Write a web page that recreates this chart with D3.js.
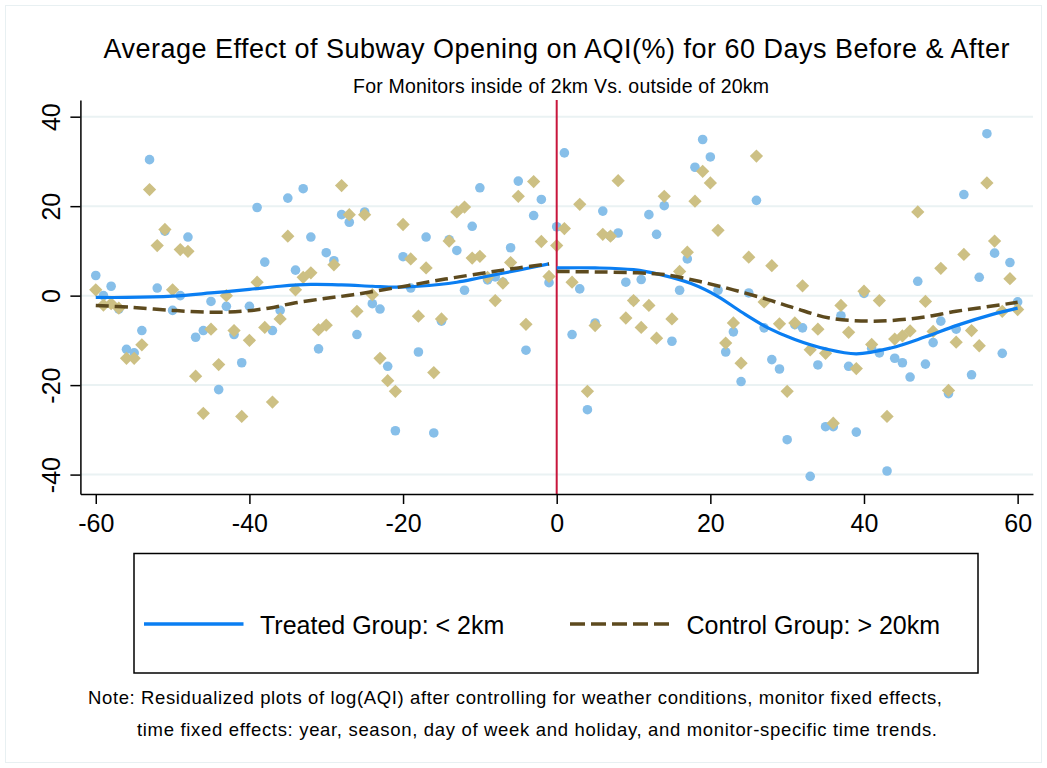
<!DOCTYPE html>
<html>
<head>
<meta charset="utf-8">
<script src="https://cdn.jsdelivr.net/npm/d3@7"></script>
<style>
  body { margin: 0; background: #fff; }
  svg { display: block; }
  text { font-family: "Liberation Sans", Arial, Helvetica, sans-serif; fill: #000; }
</style>
</head>
<body>
<svg id="chart" width="1047" height="768"></svg>
<script>
// ---------- DATA ----------
const days = d3.range(-60, 61);   // day relative to subway opening

const treated = [
  4.5, 0, 2.1, -3, -12, -12.8, -7.8, 30.4, 1.7, 14.4,          // -60..-51
  -3.3, 0, 13.1, -9.3, -7.8, -1.3, -21, -2.4, -8.7, -15,       // -50..-41
  -2.4, 19.7, 7.5, -7.8, -3.3, 21.8, 5.7, 23.9, 13.1, -11.9,   // -40..-31
  9.6, 7.8, 18.1, 16.4, -8.7, 18.7, -1.8, -3, -15.8, -30.2,    // -30..-21
  8.7, 1.7, -12.6, 13.1, -30.7, -5.7, 12.5, 10.1, 1.2, 15.5,   // -20..-11
  24.1, 3.5, 4.2, 3.0, 10.7, 25.6, -12.2, 17.9, 21.5, 2.9,     // -10..-1
  15.4,                                                          // 0
  31.9, -8.7, 1.5, -25.5, -6.1, 18.9, 13.3, 14, 3, -1.1,       // 1..10
  3.6, 18.1, 13.7, 20.1, -10.2, 1.2, 8.2, 28.7, 34.9, 31,      // 11..20
  1.2, -12.6, -8.1, -19.2, 0.6, 21.3, -7.2, -14.3, -16.4, -32.2, // 21..30
  -6.5, -7.2, -40.4, -15.5, -29.3, -29.3, -4.5, -15.8, -30.5, 0.5, // 31..40
  -11.8, -12.8, -39.2, -14, -15, -18.2, 3.2, -15.3, -10.5, -5.7, // 41..50
  -21.9, -7.5, 22.6, -17.7, 4.1, 36.2, 9.5, -12.9, 7.4, -1.4   // 51..60
];

const control = [
  1.3, -2.1, -1.8, -2.8, -14, -14, -11, 23.7, 11.2, 14.8,      // -60..-51
  1.3, 10.3, 9.9, -18, -26.3, -7.5, -15.4, 0, -7.8, -27,       // -50..-41
  -10, 3, -7.1, -23.8, -5.2, 13.3, 1.3, 4.1, 5.1, -7.6,        // -40..-31
  -6.6, 6.9, 24.6, 18.1, -3.5, 18.1, 0.2, -14, -19, -21.4,     // -30..-21
  15.9, 8.2, -4.6, 6.2, -17.2, -5.2, 12.2, 18.7, 19.8, 8.4,    // -20..-11
  8.8, 4.1, -1.1, 2.8, 7.4, 22.2, -6.4, 25.5, 12.1, 4.3,       // -10..-1
  11.2,                                                          // 0
  15, 3, 20.4, -21.4, -6.7, 13.7, 13.3, 25.7, -5, -1.1,        // 1..10
  -7.1, -2.2, -9.5, 22.2, -5.2, 5.4, 9.7, 21.1, 27.8, 25.2,    // 11..20
  14.6, -10.6, -6.1, -15.1, 8.6, 31.2, -1.4, 6.7, -6.3, -21.4, // 21..30
  -6.1, 2.2, -12.1, -7.5, -12.9, -28.5, -2.2, -8.2, -16.3, 1,  // 31..40
  -10.9, -1.1, -27, -9.7, -9, -7.9, 18.7, -1.3, -8, 6.1,       // 41..50
  -21.2, -10.4, 9.2, -7.8, -11.2, 25.2, 12.2, -3.5, 3.8, -3.1  // 51..60
];

// smoothed fits
const treatedPreDays  = [-60, -56, -50, -45, -40, -36, -32, -28, -24, -21, -18, -13, -10, -5, -1];
const treatedPreFit   = [-0.4, -0.4, -0.1, 0.6, 1.4, 2.1, 2.5, 2.4, 2.1, 1.9, 2.1, 3.0, 4.0, 5.7, 7.1];
const treatedPostDays = [0, 5, 10, 13.5, 17.5, 21, 24, 27.5, 31, 35, 39, 43.5, 48, 52, 56.5, 60];
const treatedPostFit  = [6.2, 6.2, 5.8, 4.7, 2.7, -0.2, -3.6, -7.2, -9.8, -11.9, -13, -11.7, -9.2, -6.7, -4.3, -2.8];
const controlPreDays  = [-60, -55.5, -50, -45, -41, -37.5, -34, -30, -26.5, -20.5, -14.5, -9, -5, -1];
const controlPreFit   = [-2.2, -2.6, -3.3, -3.7, -3.5, -2.8, -1.6, -0.6, 0.2, 1.9, 3.7, 5.2, 6.2, 7.1];
const controlPostDays = [0, 5, 10.5, 14, 18.5, 23, 27.5, 31, 35.5, 41, 47, 52, 56, 60];
const controlPostFit  = [5.4, 5.3, 5.1, 4.7, 3.2, 1.3, -0.9, -2.8, -5.0, -5.7, -5.0, -3.5, -2.5, -1.5];

const xTicks = [-60, -40, -20, 0, 20, 40, 60];
const yTicks = [-40, -20, 0, 20, 40];

const titleText    = "Average Effect of Subway Opening on AQI(%) for 60 Days Before & After";
const subtitleText = "For Monitors inside of 2km Vs. outside of 20km";
const legendLabels = ["Treated Group: < 2km", "Control Group: > 20km"];
const noteLines = [
  "Note: Residualized plots of log(AQI) after controlling for weather conditions, monitor fixed effects,",
  "time fixed effects: year, season, day of week and holiday, and monitor-specific time trends."
];

// ---------- STYLE ----------
const C = {
  dot: "#87bfe9",
  diamond: "#cdc084",
  line: "#0a7ef2",
  dash: "#5d4a1e",
  red: "#c8163c",
  grid: "#eaf2f3"
};

// ---------- SCALES ----------
const svg = d3.select("#chart");
const x = d3.scaleLinear().domain([-62, 62]).range([80.4, 1033]);
const y = d3.scaleLinear().domain([-44.34, 43.73]).range([494, 100]);

// faint outer frame
svg.append("rect").attr("x", 5.5).attr("y", 5.5).attr("width", 1036).attr("height", 757)
  .attr("fill", "none").attr("stroke", "#e8f0f2").attr("stroke-width", 1);

// gridlines
svg.append("g").selectAll("line").data(yTicks).join("line")
  .attr("x1", x(-62)).attr("x2", x(62))
  .attr("y1", d => y(d)).attr("y2", d => y(d))
  .attr("stroke", C.grid).attr("stroke-width", 2);

// ---------- SCATTER ----------
const ptsT = days.map((d, i) => ({ d, v: treated[i] }));
const ptsC = days.map((d, i) => ({ d, v: control[i] }));

svg.append("g").selectAll("circle").data(ptsT).join("circle")
  .attr("cx", p => x(p.d)).attr("cy", p => y(p.v)).attr("r", 4.8)
  .attr("fill", C.dot);

const diamond = d3.symbol().type(d3.symbolSquare).size(88);
svg.append("g").selectAll("path").data(ptsC).join("path")
  .attr("d", diamond)
  .attr("transform", p => `translate(${x(p.d)},${y(p.v)}) rotate(45)`)
  .attr("fill", C.diamond);

// vertical line at day 0
svg.append("line").attr("x1", x(0)).attr("x2", x(0)).attr("y1", y.range()[1]).attr("y2", y.range()[0])
  .attr("stroke", C.red).attr("stroke-width", 2);

// ---------- FITTED CURVES ----------
const lineGen = d3.line().x(p => x(p[0])).y(p => y(p[1])).curve(d3.curveCatmullRom.alpha(0.5));
function drawFit(ds, vs, color, dash, w) {
  svg.append("path").datum(ds.map((d, i) => [d, vs[i]]))
    .attr("d", lineGen).attr("fill", "none")
    .attr("stroke", color).attr("stroke-width", w)
    .attr("stroke-dasharray", dash);
}
drawFit(treatedPreDays, treatedPreFit, C.line, null, 3.2);
drawFit(treatedPostDays, treatedPostFit, C.line, null, 3.2);
drawFit(controlPreDays, controlPreFit, C.dash, "13,6", 3.5);
drawFit(controlPostDays, controlPostFit, C.dash, "13,6", 3.5);

// ---------- AXES ----------
const gx = svg.append("g").attr("transform", `translate(0,${y.range()[0]})`)
  .call(d3.axisBottom(x).tickValues(xTicks).tickSize(10).tickSizeOuter(0).tickFormat(d => String(d)));
gx.attr("font-family", null).attr("font-size", null);
gx.select(".domain").attr("stroke", "#000").attr("stroke-width", 1.5);
gx.selectAll(".tick line").attr("stroke", "#000").attr("stroke-width", 1.5);
gx.selectAll(".tick text").attr("y", 38).attr("dy", 0).style("font-size", "25px").attr("fill", "#000");

const gy = svg.append("g").attr("transform", `translate(${x.range()[0]},0)`)
  .call(d3.axisLeft(y).tickValues(yTicks).tickSize(10).tickSizeOuter(0).tickFormat(d => String(d)));
gy.attr("font-family", null).attr("font-size", null);
gy.select(".domain").attr("stroke", "#000").attr("stroke-width", 1.5);
gy.selectAll(".tick line").attr("stroke", "#000").attr("stroke-width", 1.5);
gy.selectAll(".tick text")
  .attr("transform", "rotate(-90)")
  .attr("x", 0).attr("y", -20.5).attr("dy", 0)
  .attr("text-anchor", "middle")
  .style("font-size", "25px").attr("fill", "#000");

// ---------- TITLES ----------
svg.append("text").attr("x", 556.5).attr("y", 58.3).attr("text-anchor", "middle")
  .style("font-size", "27px").attr("textLength", 906).attr("lengthAdjust", "spacing")
  .text(titleText);
svg.append("text").attr("x", 561).attr("y", 93.3).attr("text-anchor", "middle")
  .style("font-size", "19.5px").attr("textLength", 416).attr("lengthAdjust", "spacing")
  .text(subtitleText);

// ---------- LEGEND ----------
const lg = svg.append("g");
lg.append("rect").attr("x", 134).attr("y", 553.5).attr("width", 844).attr("height", 119.5)
  .attr("fill", "#fff").attr("stroke", "#000").attr("stroke-width", 1.5);
lg.append("line").attr("x1", 144).attr("x2", 243.5).attr("y1", 624).attr("y2", 624)
  .attr("stroke", C.line).attr("stroke-width", 3.5);
lg.append("text").attr("x", 260).attr("y", 633.5).style("font-size", "25px").text(legendLabels[0]);
lg.append("line").attr("x1", 570).attr("x2", 670).attr("y1", 624).attr("y2", 624)
  .attr("stroke", C.dash).attr("stroke-width", 3.5).attr("stroke-dasharray", "15,6");
lg.append("text").attr("x", 686.5).attr("y", 633.5).style("font-size", "25px").text(legendLabels[1]);

// ---------- NOTE ----------
svg.append("text").attr("x", 88).attr("y", 704).style("font-size", "18.5px")
  .attr("textLength", 854).attr("lengthAdjust", "spacing").text(noteLines[0]);
svg.append("text").attr("x", 137).attr("y", 736).style("font-size", "18.5px")
  .attr("textLength", 800).attr("lengthAdjust", "spacing").text(noteLines[1]);
</script>
</body>
</html>
